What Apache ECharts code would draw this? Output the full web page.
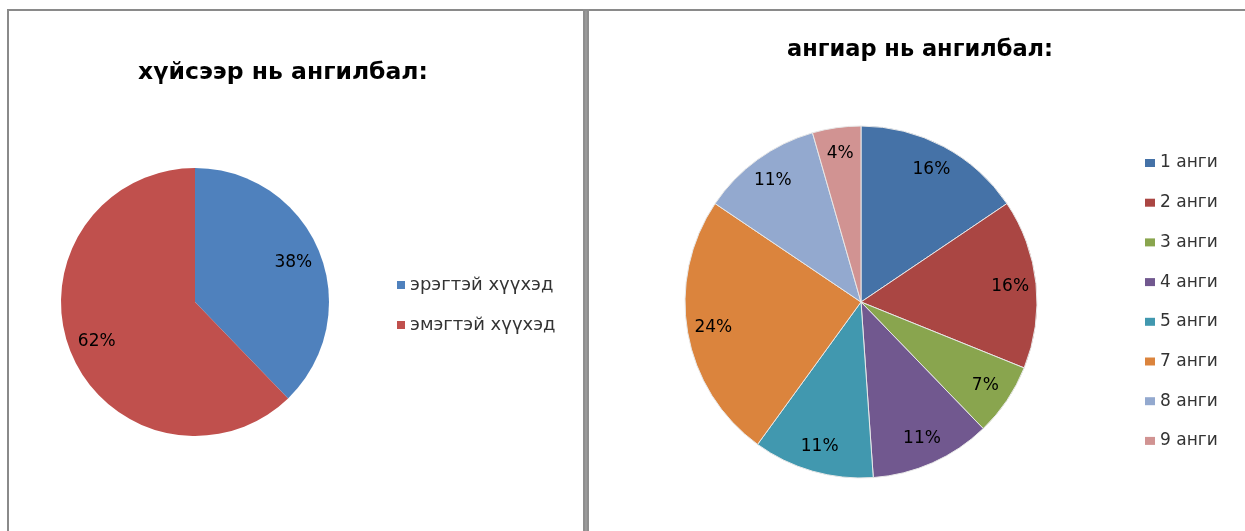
<!DOCTYPE html>
<html>
<head>
<meta charset="utf-8">
<script src="https://cdn.jsdelivr.net/npm/echarts@6/dist/echarts.min.js"></script>
<style>
html,body{margin:0;padding:0;background:#fff;}
#c{width:1245px;height:531px;}
</style>
</head>
<body>
<div id="c"></div>
<script>
// ---- data (children counts; labels shown as percentages) ----
const genderTitle = 'хүйсээр нь ангилбал:';
const genderNames = ['эрэгтэй хүүхэд', 'эмэгтэй хүүхэд'];
const genderValues = [17, 28];
const genderColors = ['#4F81BD', '#C0504D'];

const classTitle = 'ангиар нь ангилбал:';
const classNames = ['1 анги', '2 анги', '3 анги', '4 анги', '5 анги', '7 анги', '8 анги', '9 анги'];
const classValues = [7, 7, 3, 5, 5, 11, 5, 2];
const classColors = ['#4572A7', '#AA4643', '#89A54E', '#71588F', '#4198AF', '#DB843D', '#93A9CF', '#D19392'];

const FONT = '"DejaVu Sans", sans-serif';

function items(names, values, colors) {
  return names.map((n, i) => ({ name: n, value: values[i], itemStyle: { color: colors[i] } }));
}
function ghost(names, values) {
  return names.map((n, i) => ({ name: n, value: values[i] }));
}

const chart = echarts.init(document.getElementById('c'), null, { renderer: 'canvas' });
chart.setOption({
  backgroundColor: '#ffffff',
  animation: false,
  color: classColors,
  title: [
    { text: genderTitle, left: 283, top: 73, textAlign: 'center', textVerticalAlign: 'middle', padding: 0,
      textStyle: { fontFamily: FONT, fontSize: 23.5, fontWeight: 'bold', color: '#000' } },
    { text: classTitle, left: 920, top: 50, textAlign: 'center', textVerticalAlign: 'middle', padding: 0,
      textStyle: { fontFamily: FONT, fontSize: 22.5, fontWeight: 'bold', color: '#000' } }
  ],
  legend: [
    { data: genderNames, orient: 'vertical', left: 397, top: 275, icon: 'rect', padding: 0,
      itemWidth: 8, itemHeight: 8, itemGap: 20, selectedMode: false,
      itemStyle: { borderWidth: 0 },
      textStyle: { fontFamily: FONT, fontSize: 18, color: '#333', lineHeight: 20 } },
    { data: classNames, orient: 'vertical', left: 1145, top: 153, icon: 'rect', padding: 0,
      itemWidth: 10, itemHeight: 8, itemGap: 19.7, selectedMode: false,
      itemStyle: { borderWidth: 0 },
      textStyle: { fontFamily: FONT, fontSize: 17, color: '#333', lineHeight: 20 } }
  ],
  graphic: [
    { type: 'rect', shape: { x: 7, y: 9, width: 1238, height: 2 }, style: { fill: '#8a8a8a' }, silent: true },
    { type: 'rect', shape: { x: 7, y: 9, width: 2, height: 522 }, style: { fill: '#8a8a8a' }, silent: true },
    { type: 'rect', shape: { x: 583, y: 9, width: 6, height: 522 }, style: { fill: '#8e8e8e' }, silent: true },
    { type: 'rect', shape: { x: 585, y: 11, width: 2, height: 520 }, style: { fill: '#9a9a9a' }, silent: true }
  ],
  series: [
    { type: 'pie', center: [195, 302], radius: [0, 134], startAngle: 90, clockwise: true,
      silent: true, label: { show: false }, labelLine: { show: false },
      itemStyle: { borderWidth: 0 },
      data: items(genderNames, genderValues, genderColors) },
    { type: 'pie', center: [861, 302], radius: [0, 176], startAngle: 90, clockwise: true,
      silent: true, label: { show: false }, labelLine: { show: false },
      itemStyle: { borderColor: '#e8e8e8', borderWidth: 1 },
      data: items(classNames, classValues, classColors) },
    // label carriers (transparent rings that place the percentage labels)
    { type: 'pie', center: [195, 302], radius: [72, 134], startAngle: 90, clockwise: true,
      silent: true, percentPrecision: 0, labelLine: { show: false },
      itemStyle: { color: 'rgba(0,0,0,0)', borderWidth: 0 },
      label: { show: true, position: 'inside', formatter: '{d}%', fontFamily: FONT, fontSize: 17, color: '#000' },
      data: ghost(genderNames, genderValues) },
    { type: 'pie', center: [861, 302], radius: [118, 176], startAngle: 90, clockwise: true,
      silent: true, percentPrecision: 0, labelLine: { show: false },
      itemStyle: { color: 'rgba(0,0,0,0)', borderWidth: 0 },
      label: { show: true, position: 'inside', formatter: '{d}%', fontFamily: FONT, fontSize: 17, color: '#000' },
      data: ghost(classNames, classValues) }
  ]
});
</script>
</body>
</html>
